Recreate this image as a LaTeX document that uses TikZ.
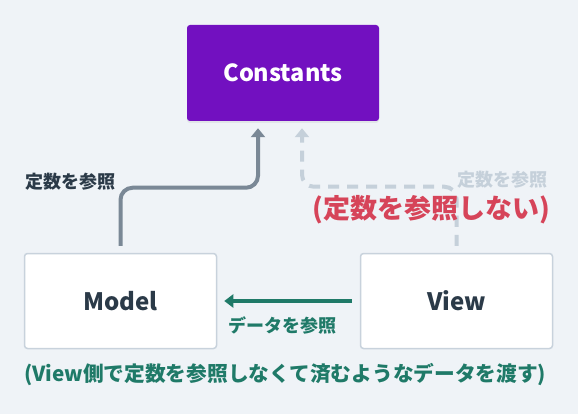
\documentclass[tikz,border=0pt]{standalone}
\usepackage{fontspec}
\setmainfont{Noto Sans CJK JP}
\usetikzlibrary{arrows.meta,shadows}
\definecolor{bgc}{HTML}{EFF3F7}
\definecolor{darktxt}{HTML}{2B3A48}
\definecolor{grayarr}{HTML}{7A8896}
\definecolor{lightarr}{HTML}{C5D0DA}
\definecolor{redtxt}{HTML}{D64459}
\definecolor{greentxt}{HTML}{1F7A68}
\definecolor{purplebox}{HTML}{7210C0}
\definecolor{boxborder}{HTML}{C8D2DC}
\tikzset{
  constbox/.style={fill=purplebox, text=white, rounded corners=3pt, minimum width=192pt, minimum height=96pt, inner sep=0pt, font=\bfseries\fontsize{23.5}{26}\selectfont, drop shadow={opacity=0.12, shadow xshift=0pt, shadow yshift=-2pt}},
  whitebox/.style={fill=white, draw=boxborder, line width=1.5pt, rounded corners=3pt, minimum width=192pt, minimum height=95pt, inner sep=0pt, text=darktxt, font=\bfseries\fontsize{24}{26}\selectfont},
  lbl/.style={inner sep=0pt, anchor=west, font=\bfseries\fontsize{18}{20}\selectfont},
  grayarrow/.style={draw=grayarr, line width=4pt, -{Triangle[width=14pt,length=9pt]}, rounded corners=12pt, shorten <=7pt, shorten >=7pt},
  lightarrow/.style={draw=lightarr, line width=4pt, dash pattern=on 11pt off 8pt, -{Triangle[width=14pt,length=9pt]}, rounded corners=12pt, shorten <=7pt, shorten >=7pt},
  greenarrow/.style={draw=greentxt, line width=4pt, -{Triangle[width=13pt,length=9pt]}, shorten <=8pt, shorten >=7pt}
}
\begin{document}
\begin{tikzpicture}[x=1pt,y=-1pt]
\fill[bgc] (0,0) rectangle (578,414);
\useasboundingbox (0,0) rectangle (578,414);
\node[constbox] (const) at (283,73) {Constants};
\node[whitebox] (model) at (120.5,301) {Model};
\node[whitebox] (view) at (456.5,301) {View};
\draw[grayarrow] (model.north) -- ++(0,-65) -| ([xshift=-25pt]const.south);
\draw[lightarrow] (view.north) -- ++(0,-66) -| ([xshift=19pt]const.south);
\draw[greenarrow] (view.west) -- (model.east);
\node[lbl, text=darktxt] (l1) at (25,182) {定数を参照};
\node[lbl, text=lightarr] (l2) at (457,180) {定数を参照};
\node[lbl, text=redtxt, font=\bfseries\fontsize{27}{30}\selectfont] (l3) at (312,210) {(定数を参照しない)};
\node[lbl, text=greentxt] (l4) at (228,325) {データを参照};
\node[lbl, text=greentxt, font=\bfseries\fontsize{20.7}{24}\selectfont] (l5) at (24,375) {(View側で定数を参照しなくて済むようなデータを渡す)};
\end{tikzpicture}
\end{document}
